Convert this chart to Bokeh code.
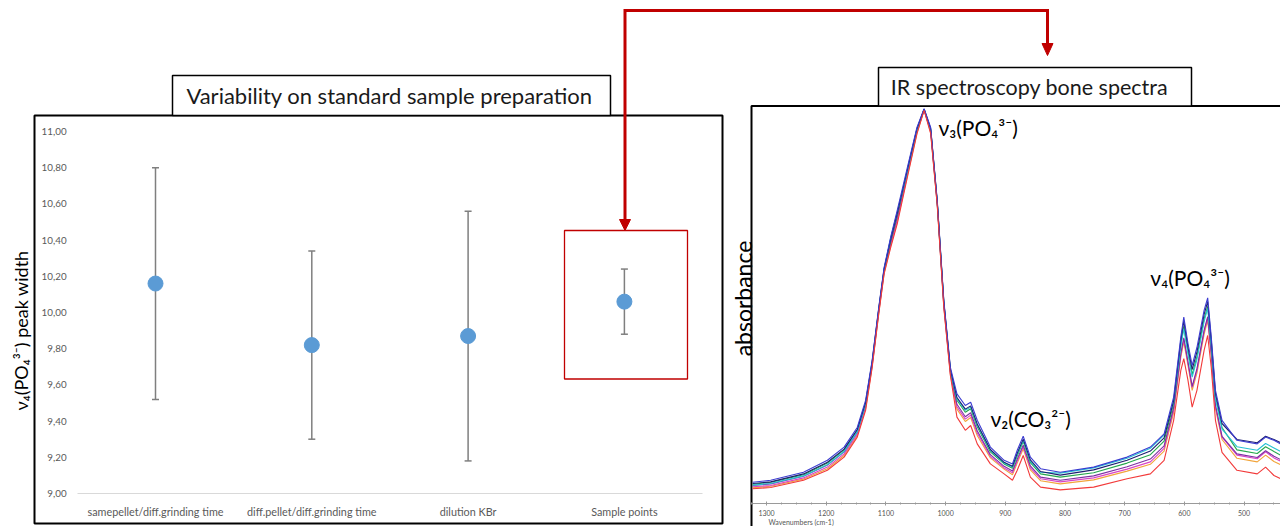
import math
from bokeh.plotting import figure
from bokeh.models import Range1d, LinearAxis, FixedTicker, CustomJSTickFormatter
from bokeh.core.properties import value
from bokeh.embed import file_html
from bokeh.resources import INLINE

# ---------------- data: left chart ----------------
categories = ["samepellet/diff.grinding time", "diff.pellet/diff.grinding time",
              "dilution KBr", "Sample points"]
means = [10.16, 9.82, 9.87, 10.06]
errors = [0.64, 0.52, 0.69, 0.18]
y_ticks = [9.0, 9.2, 9.4, 9.6, 9.8, 10.0, 10.2, 10.4, 10.6, 10.8, 11.0]
y_tick_labels = ["9,00", "9,20", "9,40", "9,60", "9,80", "10,00", "10,20",
                 "10,40", "10,60", "10,80", "11,00"]

# ---------------- data: IR spectra ----------------
wavenumbers = [1323, 1293, 1238, 1198, 1170, 1148, 1134, 1123, 1112, 1103, 1092, 1081,
               1064, 1048, 1036, 1025, 1014, 1003, 992, 981, 967, 958, 947, 925, 902,
               888, 880, 870, 858, 841, 808, 752, 696, 657, 634, 618, 606, 601, 594,
               587, 579, 567, 561, 555, 548, 537, 512, 478, 464, 450, 439]
spec_orange = [.039, .043, .061, .087, .120, .170, .237, .343, .476, .576, .644, .704, .820,
               .926, .984, .927, .747, .493, .323,
               .236, .205, .215, .170, .114, .086, .072, .101, .137, .084, .057, .049, .059,
               .081, .098, .131, .228,
               .366, .404, .345, .283, .326, .423, .458, .370, .238, .160,
               .113, .104, .121, .105, .097]
spec_magenta = [.042, .045, .064, .091, .124, .173, .241, .345, .479, .579, .648, .709, .823,
                .929, .984, .930, .749, .495, .326,
                .242, .211, .221, .176, .118, .089, .077, .106, .142, .089, .062, .054, .064,
                .086, .104, .138, .234,
                .372, .411, .351, .290, .333, .430, .464, .376, .243, .166,
                .121, .112, .129, .114, .106]
spec_purple = [.045, .049, .068, .096, .129, .178, .246, .349, .482, .582, .653, .716, .828,
               .932, .985, .933, .752, .499, .330,
               .248, .217, .227, .182, .122, .093, .081, .111, .146, .094, .066, .058, .069,
               .092, .111, .144, .240,
               .375, .414, .354, .293, .337, .433, .467, .378, .246, .168,
               .124, .115, .132, .118, .110]
spec_green = [.048, .053, .072, .101, .134, .183, .251, .353, .485, .585, .658, .723, .833,
              .935, .986, .936, .754, .503, .334,
              .258, .228, .237, .192, .129, .099, .088, .119, .155, .102, .074, .066, .077,
              .101, .122, .156, .250,
              .398, .443, .380, .322, .367, .461, .493, .399, .267, .190,
              .134, .125, .142, .130, .121]
spec_cyan = [.046, .050, .069, .097, .130, .179, .247, .350, .483, .583, .664, .728, .829,
             .933, .985, .933, .752, .500, .331,
             .262, .233, .241, .196, .133, .101, .091, .123, .158, .106, .078, .076, .089,
             .113, .138, .171, .254,
             .393, .437, .374, .316, .360, .455, .488, .395, .262, .186,
             .142, .133, .150, .139, .130]
spec_navy = [.050, .054, .074, .103, .136, .185, .253, .354, .487, .587, .661, .726, .835,
             .937, .986, .937, .755, .504, .336,
             .265, .236, .244, .199, .135, .103, .093, .126, .161, .109, .080, .071, .084,
             .108, .131, .164, .257,
             .408, .456, .391, .335, .379, .473, .505, .408, .276, .200,
             .160, .152, .168, .160, .152]
spec_blue = [.053, .058, .078, .108, .141, .190, .258, .358, .490, .590, .666, .733, .840,
             .940, .987, .940, .758, .508, .340,
             .274, .245, .253, .208, .141, .108, .099, .133, .168, .116, .087, .078, .091,
             .116, .141, .174, .266,
             .416, .466, .400, .345, .390, .483, .514, .416, .283, .208,
             .158, .149, .166, .158, .149]
spec_red = [.037, .040, .058, .083, .116, .166, .233, .340, .474, .574, .640, .699, .816,
            .924, .983, .925, .745, .490, .320,
            .216, .183, .195, .149, .099, .074, .058, .083, .120, .066, .041, .034, .041,
            .062, .074, .108, .208,
            .333, .362, .308, .241, .283, .383, .420, .340, .208, .128,
            .083, .074, .091, .070, .062]
wn_ticks = [1300, 1200, 1100, 1000, 900, 800, 700, 600, 500]
wn_minor = [1325 - 25 * i for i in range(36)]

spectra = [(spec_orange, "#f2a43a"), (spec_magenta, "#d943c6"), (spec_purple, "#7d2fa3"),
           (spec_green, "#25a84c"), (spec_cyan, "#26c2d4"), (spec_navy, "#1d1f70"),
           (spec_blue, "#3b3bd0"), (spec_red, "#f23a3a")]

# ---------------- figure (page-pixel base coordinates) ----------------
W, H = 1280, 526


def fit_range(v_a, px_a, v_b, px_b, px_start, px_end):
    k = (v_b - v_a) / (px_b - px_a)
    return Range1d(v_a + (px_start - px_a) * k, v_a + (px_end - px_a) * k)


p = figure(width=W, height=H, x_range=Range1d(0, W), y_range=Range1d(H, 0),
           x_axis_type=None, y_axis_type=None, output_backend="svg",
           toolbar_location=None, min_border=0)
p.outline_line_color = None
p.background_fill_color = "white"
p.border_fill_color = "white"

p.extra_x_ranges = {
    "cat": fit_range(0, 155, 1, 311.3, 0, W),
    "wn": fit_range(1300, 766, 500, 1243.6, 0, W),
}
p.extra_y_ranges = {
    "val": fit_range(9.0, 493, 11.0, 131, H, 0),
    "abs": fit_range(0.0, 503, 0.9875, 108, H, 0),
}

FONT = "Lato"

# ---------------- frames / title boxes ----------------
p.quad(left=[34], right=[722], top=[115], bottom=[523], fill_color=None,
       line_color="black", line_width=2)
p.quad(left=[751], right=[1300], top=[105.5], bottom=[540], fill_color=None,
       line_color="black", line_width=2)
p.quad(left=[172], right=[610], top=[75], bottom=[115], fill_color="white",
       line_color="black", line_width=1.5)
p.quad(left=[878], right=[1191], top=[67], bottom=[105.5], fill_color="white",
       line_color="black", line_width=1.5)
p.text(x=[389], y=[95], text=["Variability on standard sample preparation"],
       text_font=value(FONT), text_font_size="22px", text_color="#1a1a1a",
       text_align="center", text_baseline="middle")
p.text(x=[1029], y=[86.5], text=["IR spectroscopy bone spectra"],
       text_font=value(FONT), text_font_size="21.5px", text_color="#1a1a1a",
       text_align="center", text_baseline="middle")

# ---------------- left chart: error bars ----------------
xs = list(range(len(categories)))
lower = [m - e for m, e in zip(means, errors)]
upper = [m + e for m, e in zip(means, errors)]
p.segment(x0=xs, y0=lower, x1=xs, y1=upper, line_color="#7f7f7f", line_width=1.5,
          x_range_name="cat", y_range_name="val")
p.scatter(x=xs + xs, y=lower + upper, marker="dash", size=7, line_color="#7f7f7f",
          line_width=1.5, x_range_name="cat", y_range_name="val")
p.scatter(x=xs, y=means, size=15, fill_color="#5b9bd5", line_color="#5b9bd5",
          x_range_name="cat", y_range_name="val")

yax = LinearAxis(x_range_name="cat", y_range_name="val", fixed_location=-0.505,
                 ticker=FixedTicker(ticks=y_ticks))
yax.formatter = CustomJSTickFormatter(args=dict(tvals=y_ticks, tlabels=y_tick_labels), code="""
    let best = 0;
    for (let i = 0; i < tvals.length; i++) {
        if (Math.abs(tvals[i] - tick) < Math.abs(tvals[best] - tick)) best = i;
    }
    return tlabels[best];
""")
yax.axis_line_color = None
yax.major_tick_line_color = None
yax.minor_tick_line_color = None
yax.major_label_text_font = FONT
yax.major_label_text_font_size = "9.8px"
yax.major_label_text_color = "#595959"
yax.major_label_standoff = 4
p.add_layout(yax, "left")

xax = LinearAxis(x_range_name="cat", y_range_name="val", fixed_location=9.0,
                 ticker=FixedTicker(ticks=xs), bounds=(-0.5, 3.5))
xax.formatter = CustomJSTickFormatter(args=dict(catnames=categories),
                                      code="return catnames[Math.round(tick)] || '';")
xax.axis_line_color = "#d9d9d9"
xax.axis_line_width = 1
xax.major_tick_line_color = None
xax.minor_tick_line_color = None
xax.major_label_text_font = FONT
xax.major_label_text_font_size = "10.8px"
xax.major_label_text_color = "#595959"
xax.major_label_standoff = 5
p.add_layout(xax, "below")

p.text(x=[20], y=[330], text=["ν₄(PO₄³⁻) peak width"], angle=math.pi / 2,
       text_font=value(FONT), text_font_size="18px", text_color="black",
       text_align="center", text_baseline="middle")

# red highlight box
p.quad(left=[564], right=[687], top=[230], bottom=[378.5], fill_color=None,
       line_color="#c00000", line_width=1.3)

# ---------------- right chart: spectra ----------------
for ys, col in spectra:
    p.line(x=wavenumbers, y=ys, line_color=col, line_width=1.1,
           x_range_name="wn", y_range_name="abs")

wax = LinearAxis(x_range_name="wn", y_range_name="abs", fixed_location=0.0,
                 ticker=FixedTicker(ticks=wn_ticks, minor_ticks=wn_minor),
                 bounds=(439, 1323))
wax.axis_line_color = "#9a9a9a"
wax.major_tick_line_color = "#9a9a9a"
wax.minor_tick_line_color = "#9a9a9a"
wax.major_tick_in = 2
wax.major_tick_out = 2
wax.minor_tick_in = 1
wax.minor_tick_out = 1
wax.major_label_text_font = FONT
wax.major_label_text_font_size = "7px"
wax.major_label_text_color = "#555555"
wax.major_label_standoff = 4
p.add_layout(wax, "below")

p.text(x=[768], y=[521], text=["Wavenumbers (cm-1)"], text_font=value(FONT),
       text_font_size="7px", text_color="#555555", text_align="left",
       text_baseline="middle")
p.text(x=[742], y=[298], text=["absorbance"], angle=math.pi / 2,
       text_font=value(FONT), text_font_size="23px", text_color="black",
       text_align="center", text_baseline="middle")

peak_w = [1012, 925, 657]
peak_a = [0.94, 0.212, 0.565]
peak_names = ["ν₃(PO₄³⁻)", "ν₂(CO₃²⁻)", "ν₄(PO₄³⁻)"]
p.text(x=peak_w, y=peak_a, text=peak_names, text_font=value(FONT),
       text_font_size="21px", text_color="black", text_align="left",
       text_baseline="middle", x_range_name="wn", y_range_name="abs")

# ---------------- red connector arrow ----------------
p.line(x=[624.5, 624.5, 1047, 1047], y=[220, 10, 10, 44], line_color="#c00000",
       line_width=3, line_join="miter")
p.patches(xs=[[619, 630, 624.5], [1041.5, 1052.5, 1047]], ys=[[219, 219, 230], [43, 43, 55]],
          fill_color="#c00000", line_color="#c00000")

open("out.html", "w").write(file_html(p, INLINE))
